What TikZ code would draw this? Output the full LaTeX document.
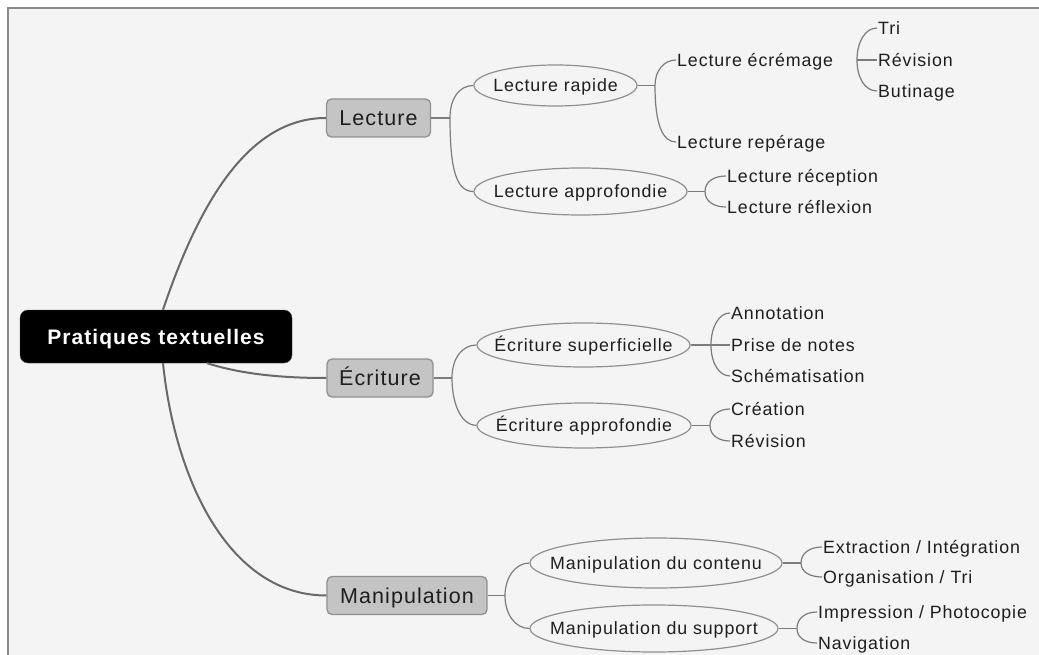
\documentclass[tikz,border=0pt]{standalone}
\usepackage{fontspec}
\setmainfont{Liberation Sans}[LetterSpace=5]
\usepackage{xcolor}
\usepackage{tikz}
\usetikzlibrary{shapes}
\usetikzlibrary{shapes.geometric}
\definecolor{fond}{HTML}{F4F4F4}
\definecolor{cadre}{HTML}{8A8A8A}
\definecolor{boite}{HTML}{C4C4C4}
\definecolor{bord}{HTML}{909090}
\definecolor{trait}{HTML}{7C7C7C}
\definecolor{encre}{HTML}{1E1E1E}
\tikzset{
    rootnode/.style = {rectangle, rounded corners=8, fill=black, draw=black!70, text=white, font=\fontsize{21}{25}\selectfont\bfseries, minimum width=272, minimum height=53, inner sep=0, text height=15, text depth=0},
    mainnode/.style = {rectangle, rounded corners=5, fill=boite, draw=bord, line width=1.3, text=encre, font=\fontsize{21.5}{25}\selectfont, minimum height=38, inner sep=0, text height=15, text depth=0},
    ovalnode/.style = {ellipse, fill=fond, draw=bord, line width=1.2, text=encre, font=\fontsize{17.8}{21}\selectfont, inner sep=0, text height=12.5, text depth=0,
        execute at begin node={\hbox to 0pt\bgroup\hss}, execute at end node={\hss\egroup}},
    leafnode/.style = {anchor=west, text=encre, font=\fontsize{17.8}{21}\selectfont, inner sep=1, text height=12.5, text depth=0},
}

\begin{document}
\begin{tikzpicture}[
	x=1pt,
	y=-1pt
]
\tikzset{
    edgem/.style = {line width=2, trait!85!black},
    edgeb/.style = {line width=1.2, trait}
}
\useasboundingbox (0,0) rectangle (1039,655);
\fill[fond] (8,8) rectangle (1039,655);
\draw[cadre, line width=1.2] (8,655) -- (8,8) -- (1039,8);
%
\node[rootnode] at (156,336.5) (root) {Pratiques textuelles};
\node[mainnode, minimum width=104] at (378.5,118) (lec) {Lecture};
\node[mainnode, minimum width=106] at (380,378) (ecr) {Écriture};
\node[mainnode, minimum width=160] at (407,595.5) (man) {Manipulation};
%
\node[ovalnode, minimum width=163, minimum height=41] at (555.5,85.5) (rap) {Lecture rapide};
\node[ovalnode, minimum width=213, minimum height=47] at (580.5,191.5) (lap) {Lecture approfondie};
\node[ovalnode, minimum width=213, minimum height=44] at (583.5,345) (esu) {Écriture superficielle};
\node[ovalnode, minimum width=214, minimum height=45] at (584,425.5) (eap) {Écriture approfondie};
\node[ovalnode, minimum width=252, minimum height=50] at (656,563) (mco) {Manipulation du contenu};
\node[ovalnode, minimum width=248, minimum height=47] at (654,628.5) (msu) {Manipulation du support};
%
\node[leafnode] at (676,60) (ecm) {Lecture écrémage};
\node[leafnode] at (676,142) (rep) {Lecture repérage};
\node[leafnode] at (877,28) (tri) {Tri};
\node[leafnode] at (877,60) (rev1) {Révision};
\node[leafnode] at (877,91) (but) {Butinage};
\node[leafnode] at (726,176) (rec) {Lecture réception};
\node[leafnode] at (726,207) (ref) {Lecture réflexion};
\node[leafnode] at (730,313) (ann) {Annotation};
\node[leafnode] at (730,345) (pri) {Prise de notes};
\node[leafnode] at (730,376) (sch) {Schématisation};
\node[leafnode] at (730,409) (cre) {Création};
\node[leafnode] at (730,441) (rev2) {Révision};
\node[leafnode] at (822,547) (ext) {Extraction / Intégration};
\node[leafnode] at (822,577) (org) {Organisation / Tri};
\node[leafnode] at (817,612) (imp) {Impression / Photocopie};
\node[leafnode] at (817,643) (nav) {Navigation};
%
\coordinate (jlec) at (450,118);
\coordinate (jecr) at (452,378);
\coordinate (jman) at (505,595.5);
\coordinate (jrap) at (655,85.5);
\coordinate (jecm) at (857,60);
\coordinate (jlap) at (705,191.5);
\coordinate (jesu) at (711,345);
\coordinate (jeap) at (710,425.5);
\coordinate (jmco) at (801,563);
\coordinate (jmsu) at (797,628.5);
%
\draw[edgem] ([xshift=7]root.north) .. controls +(37,-110) and +(-76,0) .. (lec.west);
\draw[edgem] ([xshift=51]root.south) .. controls +(35,11) and +(-45,0) .. (ecr.west);
\draw[edgem] ([xshift=7]root.south) .. controls +(12,117) and +(-97,0) .. (man.west);
%
\draw[edgeb] (lec) -- (jlec);
\draw[edgeb] (jlec) .. controls +(0,-20) and +(-14,0) .. (rap.west);
\draw[edgeb] (jlec) .. controls +(0,55) and +(-16,0) .. (lap.west);
\draw[edgeb] (rap) -- (jrap);
\draw[edgeb] (jrap) .. controls +(0,-15) and +(-12,0) .. (ecm.west);
\draw[edgeb] (jrap) .. controls +(0,40) and +(-13,0) .. (rep.west);
\draw[edgeb] (jecm) .. controls +(0,-18) and +(-12,0) .. (tri.west);
\draw[edgeb] (jecm) -- (rev1.west);
\draw[edgeb] (jecm) .. controls +(0,18) and +(-12,0) .. (but.west);
\draw[edgeb] (lap) -- (jlap);
\draw[edgeb] (jlap) .. controls +(0,-10) and +(-12,0) .. (rec.west);
\draw[edgeb] (jlap) .. controls +(0,10) and +(-12,0) .. (ref.west);
%
\draw[edgeb] (ecr) -- (jecr);
\draw[edgeb] (jecr) .. controls +(0,-20) and +(-14,0) .. (esu.west);
\draw[edgeb] (jecr) .. controls +(0,28) and +(-14,0) .. (eap.west);
\draw[edgeb] (esu) -- (jesu);
\draw[edgeb] (jesu) .. controls +(0,-18) and +(-11,0) .. (ann.west);
\draw[edgeb] (jesu) -- (pri.west);
\draw[edgeb] (jesu) .. controls +(0,18) and +(-11,0) .. (sch.west);
\draw[edgeb] (eap) -- (jeap);
\draw[edgeb] (jeap) .. controls +(0,-10) and +(-11,0) .. (cre.west);
\draw[edgeb] (jeap) .. controls +(0,10) and +(-11,0) .. (rev2.west);
%
\draw[edgeb] (man) -- (jman);
\draw[edgeb] (jman) .. controls +(0,-18) and +(-14,0) .. (mco.west);
\draw[edgeb] (jman) .. controls +(0,19) and +(-14,0) .. (msu.west);
\draw[edgeb] (mco) -- (jmco);
\draw[edgeb] (jmco) .. controls +(0,-10) and +(-12,0) .. (ext.west);
\draw[edgeb] (jmco) .. controls +(0,9) and +(-12,0) .. (org.west);
\draw[edgeb] (msu) -- (jmsu);
\draw[edgeb] (jmsu) .. controls +(0,-10) and +(-12,0) .. (imp.west);
\draw[edgeb] (jmsu) .. controls +(0,9) and +(-12,0) .. (nav.west);
\end{tikzpicture}
\end{document}
